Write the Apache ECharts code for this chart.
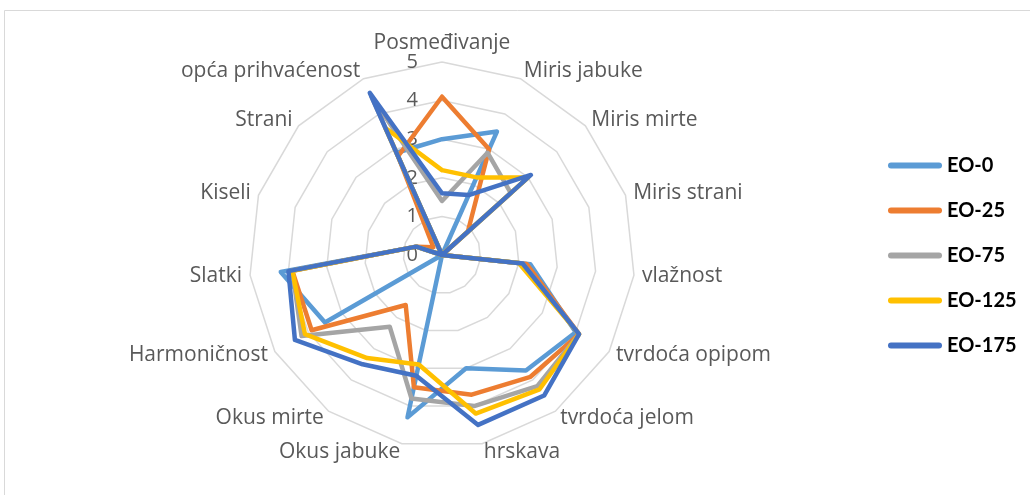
<!DOCTYPE html>
<html>
<head>
<meta charset="utf-8">
<script src="https://cdn.jsdelivr.net/npm/echarts@6/dist/echarts.min.js"></script>
<style>
html,body{margin:0;padding:0;background:#fff;}
#chart{width:1030px;height:495px;}
</style>
</head>
<body>
<div id="chart"></div>
<script>
// Indicators in clockwise order starting at the top
const categories = ['Posmeđivanje','Miris jabuke','Miris mirte','Miris strani','vlažnost','tvrdoća opipom','tvrdoća jelom','hrskava','Okus jabuke','Okus mirte','Harmoničnost','Slatki','Kiseli','Strani','opća prihvaćenost'];
const seriesNames = ['EO-0','EO-25','EO-75','EO-125','EO-175'];
const eo0   = [3.0, 3.5, 0.0, 0, 2.3, 4.0, 3.7, 3.0, 4.3, 0.0, 3.5, 4.2, 0.7, 0.0, 2.9];
const eo25  = [4.1, 3.0, 0.9, 0, 2.2, 4.1, 3.9, 3.7, 3.5, 1.6, 3.9, 3.9, 0.7, 0.3, 2.8];
const eo75  = [1.4, 2.9, 2.4, 0, 2.1, 4.1, 4.2, 4.0, 3.8, 2.3, 4.2, 3.9, 0.7, 0.0, 4.5];
const eo125 = [2.2, 2.2, 3.0, 0, 2.0, 4.1, 4.3, 4.2, 2.9, 3.3, 4.1, 3.9, 0.7, 0.0, 3.6];
const eo175 = [1.6, 1.7, 3.1, 0, 2.1, 4.1, 4.5, 4.5, 3.2, 3.5, 4.4, 4.0, 0.7, 0.0, 4.6];
const ringLabels = ['0','1','2','3','4','5'];
const colors = ['#5B9BD5','#ED7D31','#A5A5A5','#FFC000','#4472C4'];

const seriesValues = [eo0, eo25, eo75, eo125, eo175];
// ECharts radar places indicators counter-clockwise; reorder to get clockwise layout
const order = [0].concat(categories.map((_, i) => i).slice(1).reverse());
const reorder = arr => order.map(i => arr[i]);

const FONT = '"Open Sans"';
const chart = echarts.init(document.getElementById('chart'), null, {renderer: 'canvas'});
chart.setOption({
  animation: false,
  backgroundColor: '#fff',
  graphic: [{
    type: 'rect', silent: true, z: -10,
    shape: {x: 4.5, y: 10.5, width: 1200, height: 700},
    style: {fill: 'none', stroke: '#d9d9d9', lineWidth: 1}
  }],
  radar: {
    center: [442, 255],
    radius: 193,
    startAngle: 90,
    shape: 'polygon',
    splitNumber: 5,
    nameGap: 8,
    indicator: reorder(categories).map(n => ({name: n, min: 0, max: 5})),
    axisName: {color: '#595959', fontSize: 21, fontFamily: FONT},
    axisLine: {show: false},
    axisTick: {show: false},
    axisLabel: {show: false},
    splitArea: {show: false},
    splitLine: {lineStyle: {color: '#d9d9d9', width: 1.5}}
  },
  polar: {center: [442, 255], radius: 193},
  angleAxis: {show: false, startAngle: 90, min: 0, max: 360},
  radiusAxis: {
    type: 'category',
    data: ringLabels,
    boundaryGap: false,
    axisLine: {show: false},
    axisTick: {show: false},
    splitLine: {show: false},
    axisLabel: {color: '#595959', fontSize: 20, fontFamily: FONT, margin: 24}
  },
  legend: {
    orient: 'vertical',
    left: 888,
    top: 155,
    padding: 0,
    itemWidth: 54,
    itemHeight: 6,
    itemGap: 24,
    itemStyle: {borderWidth: 0},
    icon: 'path://M3,0 L51,0 A3,3 0 0 1 51,6 L3,6 A3,3 0 0 1 3,0 Z',
    textStyle: {fontFamily: 'Lato', fontSize: 20, fontWeight: 'bold', color: '#000', lineHeight: 21},
    data: seriesNames
  },
  series: seriesNames.map((name, k) => ({
    type: 'radar',
    name: name,
    symbol: 'none',
    color: colors[k],
    lineStyle: {width: 4.5, color: colors[k], cap: 'round', join: 'round'},
    data: [{name: name, value: reorder(seriesValues[k])}]
  }))
});
</script>
</body>
</html>
